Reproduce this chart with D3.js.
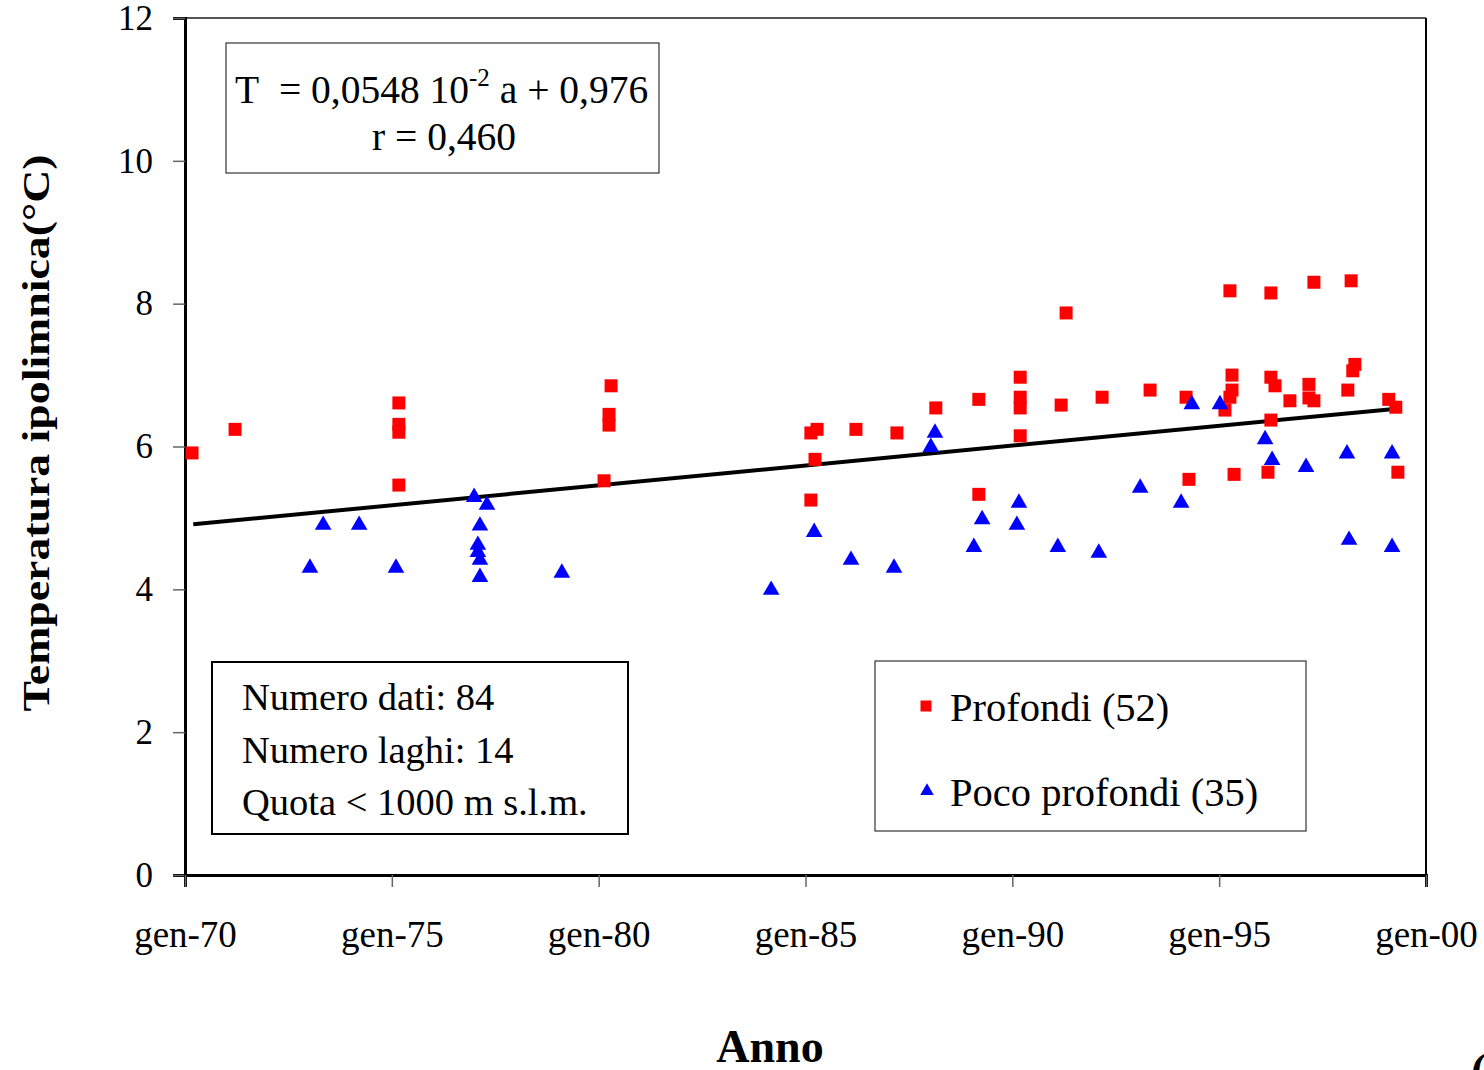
<!DOCTYPE html>
<html>
<head>
    <meta charset="utf-8">
    <script src="https://d3js.org/d3.v7.min.js"></script>
</head>
<body style="margin: 0; background-color: white;">

<div id="my_dataviz"></div>

<script>
// Profondi (deep lakes) - red squares
var deepYears = [1970.17, 1971.21,
  1975.17, 1975.17, 1975.17, 1975.17,
  1980.30, 1980.25, 1980.25, 1980.13,
  1985.13, 1985.28, 1985.23, 1985.13,
  1986.22, 1987.21, 1988.15, 1989.19, 1989.19,
  1990.19, 1990.19, 1990.19, 1990.19,
  1991.18, 1991.30, 1992.17, 1993.33, 1994.20, 1994.27,
  1995.14, 1995.26, 1995.26, 1995.31, 1995.31, 1995.36,
  1996.18, 1996.25, 1996.25, 1996.25, 1996.35, 1996.71,
  1997.17, 1997.17, 1997.29, 1997.29,
  1998.11, 1998.19, 1998.23, 1998.28,
  1999.10, 1999.27, 1999.32];
var deepTemps = [5.91, 6.24,
  6.61, 6.31, 6.20, 5.46,
  6.85, 6.45, 6.30, 5.52,
  6.19, 6.24, 5.82, 5.25,
  6.24, 6.19, 6.54, 6.66, 5.33,
  6.97, 6.69, 6.54, 6.15,
  6.58, 7.87, 6.69, 6.79, 6.69, 5.54,
  6.51, 8.18, 6.69, 7.00, 6.79, 5.61,
  5.64, 8.15, 6.97, 6.37, 6.85, 6.64,
  6.87, 6.68, 8.30, 6.64,
  6.79, 8.32, 7.06, 7.15,
  6.66, 6.55, 5.64];

// Poco profondi (shallow lakes) - blue triangles
var shallowYears = [1973.02, 1973.34, 1974.21, 1975.10,
  1976.99, 1977.30, 1977.13, 1977.08, 1977.08, 1977.13, 1977.13,
  1979.11, 1984.17, 1985.21, 1986.10, 1987.14, 1988.03, 1988.13,
  1989.07, 1989.27, 1990.11, 1990.16, 1991.10, 1992.09, 1993.09,
  1994.08, 1994.34, 1995.02, 1996.11, 1996.28, 1997.10,
  1998.09, 1998.14, 1999.18, 1999.18];
var shallowTemps = [4.30, 4.90, 4.90, 4.30,
  5.29, 5.18, 4.89, 4.62, 4.52, 4.41, 4.17,
  4.23, 3.99, 4.80, 4.41, 4.30, 5.99, 6.19,
  4.59, 4.98, 4.90, 5.21, 4.59, 4.51, 5.42,
  5.21, 6.59, 6.59, 6.10, 5.81, 5.71,
  5.90, 4.69, 5.90, 4.59];

// regression line
var trendYears = [1970.2, 1999.3];
var trendTemps = [4.91, 6.53];

var xTicks = [1970, 1975, 1980, 1985, 1990, 1995, 2000];
var xTickLabels = ["gen-70", "gen-75", "gen-80", "gen-85", "gen-90", "gen-95", "gen-00"];
var yTicks = [0, 2, 4, 6, 8, 10, 12];

var W = 1484, H = 1070;
var plot = {left: 185, right: 1426, top: 18, bottom: 875};
var font = "'Liberation Serif', 'Times New Roman', serif";

var svg = d3.select("#my_dataviz")
  .append("svg")
    .attr("width", W)
    .attr("height", H)
    .style("display", "block")
    .style("font-family", font);

var x = d3.scaleLinear().domain([1970, 2000]).range([plot.left, plot.right]);
var y = d3.scaleLinear().domain([0, 12]).range([plot.bottom, plot.top]);

// frame top / right
svg.append("line")
  .attr("x1", plot.left).attr("x2", plot.right)
  .attr("y1", plot.top).attr("y2", plot.top)
  .attr("stroke", "#555").attr("stroke-width", 2);
svg.append("line")
  .attr("x1", plot.right).attr("x2", plot.right)
  .attr("y1", plot.top).attr("y2", plot.bottom)
  .attr("stroke", "#000").attr("stroke-width", 2);

// Y axis
var yAxis = svg.append("g")
  .attr("transform", "translate(" + plot.left + ",0)")
  .call(d3.axisLeft(y).tickValues(yTicks).tickSize(12).tickPadding(20).tickFormat(d3.format("d")));
yAxis.select(".domain").attr("stroke", "#000").attr("stroke-width", 3);
yAxis.selectAll(".tick line").attr("stroke", "#666").attr("stroke-width", 1.5);
yAxis.selectAll(".tick text")
  .style("font-family", font).style("font-size", "35px").attr("fill", "#000");

// X axis
var xAxis = svg.append("g")
  .attr("transform", "translate(0," + plot.bottom + ")")
  .call(d3.axisBottom(x).tickValues(xTicks).tickSize(12)
    .tickFormat(function(d, i) { return xTickLabels[i]; }));
xAxis.select(".domain").attr("stroke", "#000").attr("stroke-width", 3);
xAxis.selectAll(".tick line").attr("stroke", "#666").attr("stroke-width", 1.5);
xAxis.selectAll(".tick text")
  .attr("dy", null).attr("y", 72)
  .style("font-family", font).style("font-size", "37px").attr("fill", "#000");

// axis titles
svg.append("text")
  .attr("transform", "translate(49,433) rotate(-90)")
  .attr("text-anchor", "middle")
  .attr("textLength", 557)
  .attr("lengthAdjust", "spacingAndGlyphs")
  .style("font-size", "38px").style("font-weight", "bold")
  .text("Temperatura ipolimnica(°C)");

svg.append("text")
  .attr("x", 770).attr("y", 1062)
  .attr("text-anchor", "middle")
  .style("font-size", "46px").style("font-weight", "bold")
  .text("Anno");

svg.append("text")
  .attr("x", 1471).attr("y", 1086)
  .style("font-size", "46px").style("font-weight", "bold")
  .text("(");

// trend line
var trend = d3.range(trendYears.length).map(function(i) { return [trendYears[i], trendTemps[i]]; });
svg.append("path")
  .datum(trend)
  .attr("fill", "none")
  .attr("stroke", "#000")
  .attr("stroke-width", 4)
  .attr("d", d3.line().x(function(d) { return x(d[0]); }).y(function(d) { return y(d[1]); }));

// points
var square = d3.symbol().type(d3.symbolSquare).size(169);
var tri = d3.symbol().type(d3.symbolTriangle).size(120);

svg.append("g").selectAll("path")
  .data(deepYears.map(function(d, i) { return [d, deepTemps[i]]; }))
  .enter().append("path")
    .attr("d", square)
    .attr("transform", function(d) { return "translate(" + x(d[0]) + "," + y(d[1]) + ")"; })
    .attr("fill", "#ff0000");

svg.append("g").selectAll("path")
  .data(shallowYears.map(function(d, i) { return [d, shallowTemps[i]]; }))
  .enter().append("path")
    .attr("d", tri)
    .attr("transform", function(d) { return "translate(" + x(d[0]) + "," + y(d[1]) + ")"; })
    .attr("fill", "#0000ff");

// equation box
svg.append("rect")
  .attr("x", 226).attr("y", 43).attr("width", 433).attr("height", 130)
  .attr("fill", "white").attr("stroke", "#333").attr("stroke-width", 1.2);
var eq = svg.append("text")
  .attr("x", 235).attr("y", 103)
  .style("font-size", "39.5px");
eq.append("tspan").text("T\u00a0\u00a0= 0,0548 10");
eq.append("tspan").attr("dy", -17).style("font-size", "25px").text("-2");
eq.append("tspan").attr("dy", 17).text(" a + 0,976");
svg.append("text")
  .attr("x", 444).attr("y", 150)
  .attr("text-anchor", "middle")
  .style("font-size", "39.5px")
  .text("r = 0,460");

// info box
svg.append("rect")
  .attr("x", 212).attr("y", 662).attr("width", 416).attr("height", 172)
  .attr("fill", "white").attr("stroke", "#000").attr("stroke-width", 2);
var infoLines = ["Numero dati: 84", "Numero laghi: 14", "Quota < 1000 m s.l.m."];
svg.append("g").selectAll("text")
  .data(infoLines)
  .enter().append("text")
    .attr("x", 242)
    .attr("y", function(d, i) { return 710 + i * 52.5; })
    .style("font-size", "38.5px")
    .text(function(d) { return d; });

// legend
svg.append("rect")
  .attr("x", 875).attr("y", 661).attr("width", 431).attr("height", 170)
  .attr("fill", "white").attr("stroke", "#333").attr("stroke-width", 1.2);
svg.append("path")
  .attr("d", d3.symbol().type(d3.symbolSquare).size(121))
  .attr("transform", "translate(926,706)")
  .attr("fill", "#ff0000");
svg.append("path")
  .attr("d", d3.symbol().type(d3.symbolTriangle).size(80))
  .attr("transform", "translate(927,791)")
  .attr("fill", "#0000ff");
svg.append("text").attr("x", 950).attr("y", 721).style("font-size", "40.5px").text("Profondi (52)");
svg.append("text").attr("x", 950).attr("y", 806).style("font-size", "40.5px").text("Poco profondi (35)");
</script>
</body>
</html>
